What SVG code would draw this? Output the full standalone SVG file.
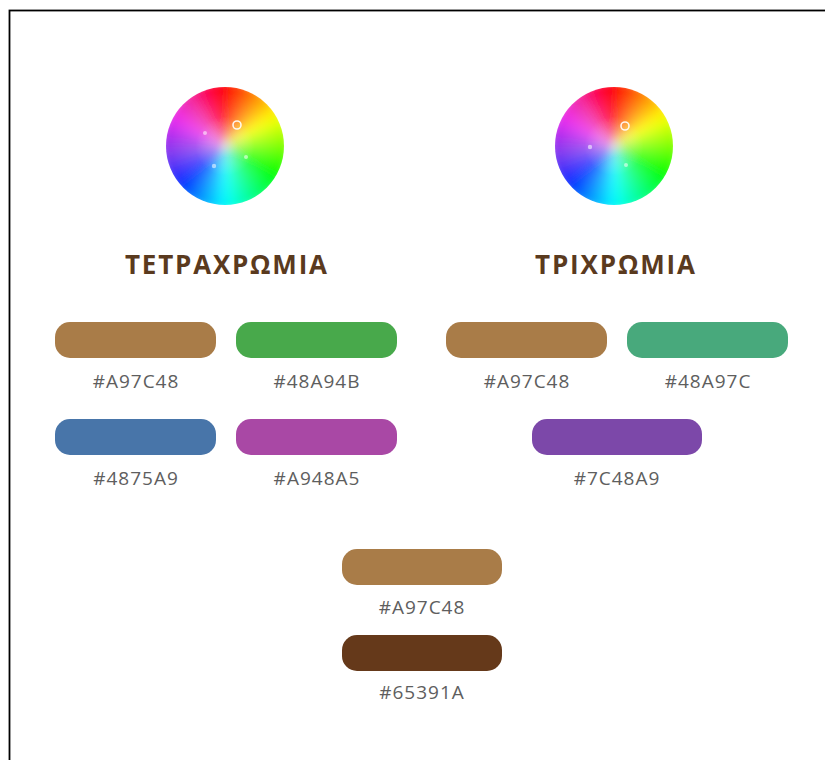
<svg xmlns="http://www.w3.org/2000/svg" xmlns:xlink="http://www.w3.org/1999/xlink" width="825" height="760" viewBox="0 0 825 760">
<style>
.title{font-family:"Open Sans","Liberation Sans",sans-serif;font-weight:700;font-size:26px;fill:#5a3a1e;text-anchor:middle}
.lbl{font-family:"Open Sans","Liberation Sans",sans-serif;font-size:19px;fill:#5e5e5e;text-anchor:middle;letter-spacing:1px}
.ring{fill:none;stroke:#fff;stroke-width:1.6;opacity:0.9}
.dot{fill:#fff;opacity:0.55}
</style>
<defs>
<clipPath id="wclip"><circle cx="0" cy="0" r="59"/></clipPath>
<filter id="soft" x="-20%" y="-20%" width="140%" height="140%"><feGaussianBlur stdDeviation="4"/></filter>
<radialGradient id="shade" cx="0.5" cy="0.5" r="0.5">
<stop offset="0" stop-color="#e8e0e8" stop-opacity="0.65"/>
<stop offset="0.5" stop-color="#fff" stop-opacity="0.18"/>
<stop offset="1" stop-color="#fff" stop-opacity="0"/>
</radialGradient>
<g id="wheel">
<g clip-path="url(#wclip)">
<g filter="url(#soft)" stroke-width="1.2">
<path d="M0 0L0 -64L11.11 -63.03Z" fill="hsl(5,100%,50%)" stroke="hsl(5,100%,50%)"/>
<path d="M0 0L11.11 -63.03L21.89 -60.14Z" fill="hsl(15,100%,50%)" stroke="hsl(15,100%,50%)"/>
<path d="M0 0L21.89 -60.14L32 -55.43Z" fill="hsl(25,100%,50%)" stroke="hsl(25,100%,50%)"/>
<path d="M0 0L32 -55.43L41.14 -49.03Z" fill="hsl(35,100%,50%)" stroke="hsl(35,100%,50%)"/>
<path d="M0 0L41.14 -49.03L49.03 -41.14Z" fill="hsl(45,100%,50%)" stroke="hsl(45,100%,50%)"/>
<path d="M0 0L49.03 -41.14L55.43 -32Z" fill="hsl(55,100%,50%)" stroke="hsl(55,100%,50%)"/>
<path d="M0 0L55.43 -32L60.14 -21.89Z" fill="hsl(65,100%,50%)" stroke="hsl(65,100%,50%)"/>
<path d="M0 0L60.14 -21.89L63.03 -11.11Z" fill="hsl(75,100%,50%)" stroke="hsl(75,100%,50%)"/>
<path d="M0 0L63.03 -11.11L64 0Z" fill="hsl(85,100%,50%)" stroke="hsl(85,100%,50%)"/>
<path d="M0 0L64 0L63.03 11.11Z" fill="hsl(95,100%,50%)" stroke="hsl(95,100%,50%)"/>
<path d="M0 0L63.03 11.11L60.14 21.89Z" fill="hsl(105,100%,50%)" stroke="hsl(105,100%,50%)"/>
<path d="M0 0L60.14 21.89L55.43 32Z" fill="hsl(115,100%,50%)" stroke="hsl(115,100%,50%)"/>
<path d="M0 0L55.43 32L49.03 41.14Z" fill="hsl(125,100%,50%)" stroke="hsl(125,100%,50%)"/>
<path d="M0 0L49.03 41.14L41.14 49.03Z" fill="hsl(135,100%,50%)" stroke="hsl(135,100%,50%)"/>
<path d="M0 0L41.14 49.03L32 55.43Z" fill="hsl(145,100%,50%)" stroke="hsl(145,100%,50%)"/>
<path d="M0 0L32 55.43L21.89 60.14Z" fill="hsl(155,100%,50%)" stroke="hsl(155,100%,50%)"/>
<path d="M0 0L21.89 60.14L11.11 63.03Z" fill="hsl(165,100%,50%)" stroke="hsl(165,100%,50%)"/>
<path d="M0 0L11.11 63.03L0 64Z" fill="hsl(175,100%,50%)" stroke="hsl(175,100%,50%)"/>
<path d="M0 0L0 64L-11.11 63.03Z" fill="hsl(185,100%,50%)" stroke="hsl(185,100%,50%)"/>
<path d="M0 0L-11.11 63.03L-21.89 60.14Z" fill="hsl(195,100%,50%)" stroke="hsl(195,100%,50%)"/>
<path d="M0 0L-21.89 60.14L-32 55.43Z" fill="hsl(205,100%,50%)" stroke="hsl(205,100%,50%)"/>
<path d="M0 0L-32 55.43L-41.14 49.03Z" fill="hsl(215,100%,50%)" stroke="hsl(215,100%,50%)"/>
<path d="M0 0L-41.14 49.03L-49.03 41.14Z" fill="hsl(225,100%,50%)" stroke="hsl(225,100%,50%)"/>
<path d="M0 0L-49.03 41.14L-55.43 32Z" fill="hsl(235,100%,55%)" stroke="hsl(235,100%,55%)"/>
<path d="M0 0L-55.43 32L-60.14 21.89Z" fill="hsl(245,95%,58%)" stroke="hsl(245,95%,58%)"/>
<path d="M0 0L-60.14 21.89L-63.03 11.11Z" fill="hsl(255,90%,58%)" stroke="hsl(255,90%,58%)"/>
<path d="M0 0L-63.03 11.11L-64 0Z" fill="hsl(265,85%,58%)" stroke="hsl(265,85%,58%)"/>
<path d="M0 0L-64 0L-63.03 -11.11Z" fill="hsl(275,85%,56%)" stroke="hsl(275,85%,56%)"/>
<path d="M0 0L-63.03 -11.11L-60.14 -21.89Z" fill="hsl(285,85%,55%)" stroke="hsl(285,85%,55%)"/>
<path d="M0 0L-60.14 -21.89L-55.43 -32Z" fill="hsl(295,85%,55%)" stroke="hsl(295,85%,55%)"/>
<path d="M0 0L-55.43 -32L-49.03 -41.14Z" fill="hsl(305,85%,55%)" stroke="hsl(305,85%,55%)"/>
<path d="M0 0L-49.03 -41.14L-41.14 -49.03Z" fill="hsl(315,85%,55%)" stroke="hsl(315,85%,55%)"/>
<path d="M0 0L-41.14 -49.03L-32 -55.43Z" fill="hsl(325,90%,55%)" stroke="hsl(325,90%,55%)"/>
<path d="M0 0L-32 -55.43L-21.89 -60.14Z" fill="hsl(335,95%,52%)" stroke="hsl(335,95%,52%)"/>
<path d="M0 0L-21.89 -60.14L-11.11 -63.03Z" fill="hsl(345,100%,50%)" stroke="hsl(345,100%,50%)"/>
<path d="M0 0L-11.11 -63.03L0 -64Z" fill="hsl(355,100%,50%)" stroke="hsl(355,100%,50%)"/>
</g>
<circle cx="0" cy="0" r="59" fill="url(#shade)"/>
</g>
</g>
</defs>

<rect x="9.5" y="10.5" width="840" height="800" fill="#fff" stroke="#000" stroke-width="1.8"/>

<g id="tetra-wheel">
<use xlink:href="#wheel" href="#wheel" transform="translate(225,146)"/>
<circle class="ring" cx="237" cy="125" r="4"/>
<circle class="dot" cx="205" cy="133" r="2"/>
<circle class="dot" cx="246" cy="157" r="2"/>
<circle class="dot" cx="214" cy="166" r="2.2"/>
</g>
<g id="tri-wheel">
<use xlink:href="#wheel" href="#wheel" transform="translate(614,146)"/>
<circle class="ring" cx="625" cy="126" r="4"/>
<circle class="dot" cx="590" cy="147" r="2.2"/>
<circle class="dot" cx="626" cy="165" r="2"/>
</g>

<g id="tetra-title"><text class="title" x="226" y="274" textLength="202" lengthAdjust="spacing">ΤΕΤΡΑΧΡΩΜΙΑ</text></g>
<g id="tri-title"><text class="title" x="615" y="274" textLength="160" lengthAdjust="spacing">ΤΡΙΧΡΩΜΙΑ</text></g>

<g id="t1"><rect x="55" y="322" width="161" height="36" rx="15" fill="#A97C48"/><text class="lbl" x="136" y="388">#A97C48</text></g>
<g id="t2"><rect x="236" y="322" width="161" height="36" rx="15" fill="#48A94B"/><text class="lbl" x="317" y="388">#48A94B</text></g>
<g id="t3"><rect x="55" y="419" width="161" height="36" rx="15" fill="#4875A9"/><text class="lbl" x="136" y="485">#4875A9</text></g>
<g id="t4"><rect x="236" y="419" width="161" height="36" rx="15" fill="#A948A5"/><text class="lbl" x="317" y="485">#A948A5</text></g>

<g id="r1"><rect x="446" y="322" width="161" height="36" rx="15" fill="#A97C48"/><text class="lbl" x="527" y="388">#A97C48</text></g>
<g id="r2"><rect x="627" y="322" width="161" height="36" rx="15" fill="#48A97C"/><text class="lbl" x="708" y="388">#48A97C</text></g>
<g id="r3"><rect x="532" y="419" width="170" height="36" rx="15" fill="#7C48A9"/><text class="lbl" x="617" y="485">#7C48A9</text></g>

<g id="b1"><rect x="342" y="549" width="160" height="36" rx="15" fill="#A97C48"/><text class="lbl" x="422" y="614">#A97C48</text></g>
<g id="b2"><rect x="342" y="635" width="160" height="36" rx="15" fill="#65391A"/><text class="lbl" x="422" y="699">#65391A</text></g>

<g id="connectors"/>
</svg>
